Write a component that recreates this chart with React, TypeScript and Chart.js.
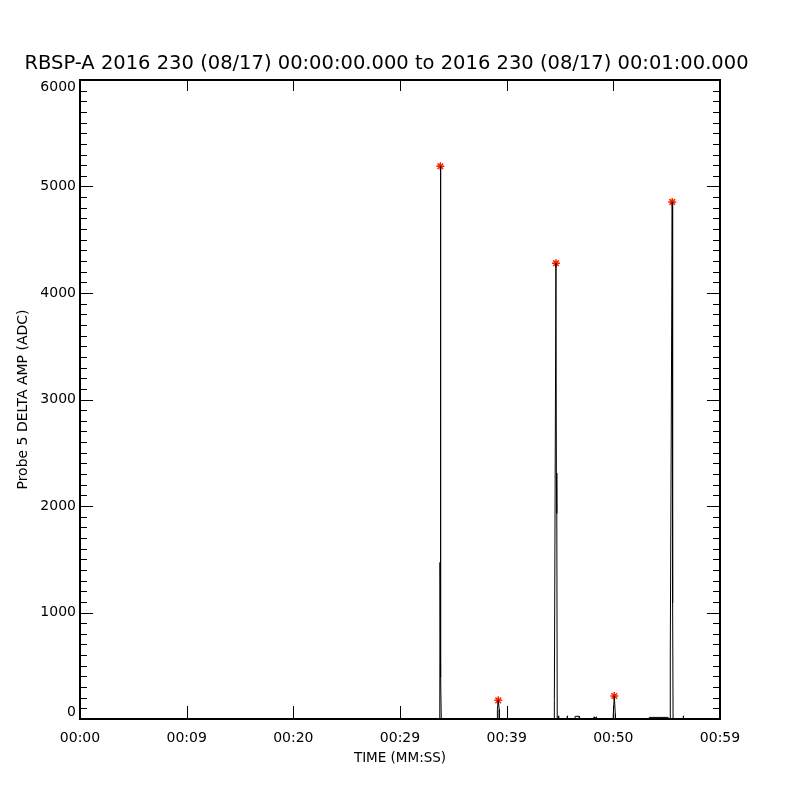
import React, { useEffect, useRef } from "react";
import { Chart, registerables } from "chart.js";

Chart.register(...registerables);

const titleText = "RBSP-A 2016 230 (08/17) 00:00:00.000 to 2016 230 (08/17) 00:01:00.000";
const xAxisTitle = "TIME (MM:SS)";
const yAxisTitle = "Probe 5 DELTA AMP (ADC)";

const xTickValues = [0, 10, 20, 30, 40, 50, 60];
const xTickLabels = ["00:00", "00:09", "00:20", "00:29", "00:39", "00:50", "00:59"];
const yTickValues = [0, 1000, 2000, 3000, 4000, 5000, 6000];
const yTickLabels = ["0", "1000", "2000", "3000", "4000", "5000", "6000"];

// seconds since 00:00:00 and amplitude (ADC)
const sampleTimes = [
  0, 33.73, 33.75, 33.78, 33.81, 33.84, 33.87,
  39.12, 39.13, 39.21, 39.3, 39.31,
  44.46, 44.47, 44.62, 44.66, 44.7, 44.74, 44.86, 44.87, 44.88,
  45.66, 45.68, 45.7, 46.4, 46.42, 46.8, 46.82,
  48.18, 48.2, 48.22, 48.37, 48.39, 48.41,
  49.97, 49.99, 50.09, 50.18, 50.2,
  53.35, 53.37, 55.1, 55.12, 55.33, 55.34, 55.52, 55.55, 55.57, 55.6,
  56.54, 56.56, 56.58, 60,
];
const sampleValues = [
  0, 0, 1470, 5190, 2960, 390, 0,
  0, 90, 175, 90, 0,
  0, 175, 4280, 2310, 1930, 0, 0, 30, 0,
  0, 30, 0, 0, 25, 25, 0,
  0, 20, 0, 0, 20, 0,
  0, 30, 216, 50, 0,
  0, 15, 15, 0, 0, 620, 4855, 3010, 1090, 0,
  0, 30, 0, 0,
];

const peakTimes = [33.78, 39.21, 44.62, 50.09, 55.52];
const peakValues = [5190, 175, 4280, 216, 4855];

const FONT = "'DejaVu Sans', 'Liberation Sans', sans-serif";

const framePlugin = {
  id: "idlFrame",
  afterDatasetsDraw(chart: any) {
    const { ctx, chartArea, scales } = chart;
    const { left, right, top, bottom } = chartArea;
    const xs = scales.x;
    const ys = scales.y;
    ctx.save();
    ctx.strokeStyle = "#000";
    ctx.lineWidth = 1;
    ctx.beginPath();
    const yMin = yTickValues[0];
    const yMax = yTickValues[yTickValues.length - 1];
    const yStep = (yTickValues[1] - yTickValues[0]) / 10;
    for (let v = yMin; v <= yMax + 1e-6; v += yStep) {
      const py = Math.round(ys.getPixelForValue(v)) + 0.5;
      const major = Math.abs(v / (yStep * 10) - Math.round(v / (yStep * 10))) < 1e-6;
      const len = major ? 13 : 7;
      ctx.moveTo(left, py);
      ctx.lineTo(left + len, py);
      ctx.moveTo(right - len, py);
      ctx.lineTo(right, py);
    }
    for (const v of xTickValues) {
      const px = Math.round(xs.getPixelForValue(v)) + 0.5;
      ctx.moveTo(px, bottom);
      ctx.lineTo(px, bottom - 13);
      ctx.moveTo(px, top);
      ctx.lineTo(px, top + 11);
    }
    ctx.stroke();
    ctx.lineWidth = 2;
    ctx.strokeRect(left, top, right - left, bottom - top);
    ctx.restore();
  },
};

export default function App() {
  const ref = useRef<HTMLCanvasElement | null>(null);

  useEffect(() => {
    if (!ref.current) return;
    const lineData = sampleTimes.map((t, i) => ({ x: t, y: sampleValues[i] }));
    const peakData = peakTimes.map((t, i) => ({ x: t, y: peakValues[i] }));
    const chart = new Chart(ref.current, {
      type: "line",
      data: {
        datasets: [
          {
            data: lineData,
            borderColor: "#000",
            borderWidth: 1,
            pointRadius: 0,
            tension: 0,
            fill: false,
          },
          {
            data: peakData,
            showLine: false,
            pointStyle: "star",
            pointRadius: 4,
            borderColor: "#ff2200",
            backgroundColor: "#ff2200",
            borderWidth: 1.5,
          },
        ],
      } as any,
      options: {
        responsive: false,
        animation: false,
        events: [],
        layout: { padding: { left: 0, right: 27, top: 0, bottom: 0 } },
        plugins: {
          legend: { display: false },
          tooltip: { enabled: false },
          title: {
            display: true,
            text: titleText,
            color: "#000",
            font: { family: FONT, size: 19.5, weight: "normal" },
            padding: { top: 52.6, bottom: 4 },
          },
        },
        scales: {
          x: {
            type: "linear",
            min: 0,
            max: 60,
            afterBuildTicks: (s: any) => {
              s.ticks = xTickValues.map((v) => ({ value: v }));
            },
            afterFit: (s: any) => {
              s.height = 81;
            },
            grid: { display: false, drawTicks: false },
            border: { display: false },
            ticks: {
              autoSkip: false,
              maxRotation: 0,
              padding: 11,
              color: "#000",
              font: { family: FONT, size: 14 },
              callback: (v: any) => xTickLabels[xTickValues.indexOf(Number(v))],
            },
            title: {
              display: true,
              text: xAxisTitle,
              color: "#000",
              font: { family: FONT, size: 13.5 },
              padding: { top: 0, bottom: 33 },
            },
          },
          y: {
            type: "linear",
            min: 0,
            max: 6000,
            afterBuildTicks: (s: any) => {
              s.ticks = yTickValues.map((v) => ({ value: v }));
            },
            afterFit: (s: any) => {
              s.width = 80;
            },
            grid: { display: false, drawTicks: false },
            border: { display: false },
            ticks: {
              autoSkip: false,
              padding: 4,
              color: "#000",
              font: (c: any) => {
                const i = c.index;
                const edge = i === 0 || i === yTickValues.length - 1;
                return { family: FONT, size: 14, lineHeight: edge ? "14px" : 1.2 };
              },
              callback: (v: any) => {
                const i = yTickValues.indexOf(Number(v));
                const lbl = yTickLabels[i];
                if (i === 0) return [lbl, ""];
                if (i === yTickValues.length - 1) return ["", lbl];
                return lbl;
              },
            },
            title: {
              display: true,
              text: yAxisTitle,
              color: "#000",
              font: { family: FONT, size: 14 },
              padding: { top: 15, bottom: 0 },
            },
          },
          yRight: {
            type: "linear",
            position: "right",
            display: true,
            min: 0,
            max: 6000,
            afterFit: (s: any) => {
              s.width = 53;
            },
            grid: { display: false, drawTicks: false },
            border: { display: false },
            ticks: { display: false },
          },
        },
      } as any,
      plugins: [framePlugin],
    });
    return () => chart.destroy();
  }, []);

  return (
    <div style={{ position: "absolute", left: 0, top: 0, width: 800, height: 800, background: "#fff" }}>
      <canvas ref={ref} width={800} height={800} />
    </div>
  );
}
